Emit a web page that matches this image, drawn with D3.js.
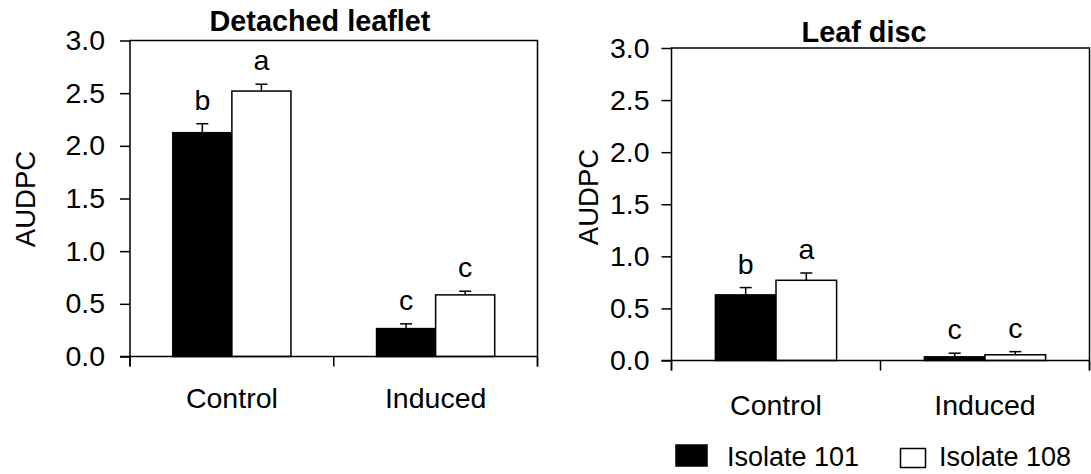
<!DOCTYPE html>
<html>
<head>
<meta charset="utf-8">
<script src="https://cdn.jsdelivr.net/npm/d3@7"></script>
<style>
  html, body { margin: 0; padding: 0; background: #fff; }
  svg { display: block; }
  text { font-family: "Liberation Sans", Arial, sans-serif; fill: #000; }
</style>
</head>
<body>
<svg id="chart" width="1091" height="474"></svg>
<script>
// Treatment groups and fungal isolates
const categories = ["Control", "Induced"];
const isolates = ["Isolate 101", "Isolate 108"];
const yTickValues = [0, 0.5, 1.0, 1.5, 2.0, 2.5, 3.0];

// Detached leaflet assay: mean AUDPC and standard error
const leaflet101 = [2.125, 0.265];
const leaflet108 = [2.52, 0.585];
const leaflet101Err = [0.085, 0.045];
const leaflet108Err = [0.065, 0.035];
const leaflet101Letters = ["b", "c"];
const leaflet108Letters = ["a", "c"];

// Leaf disc assay: mean AUDPC and standard error
const disc101 = [0.63, 0.035];
const disc108 = [0.77, 0.055];
const disc101Err = [0.07, 0.035];
const disc108Err = [0.07, 0.03];
const disc101Letters = ["b", "c"];
const disc108Letters = ["a", "c"];

const FONT = 28.5;
const TITLE_FONT = 28.8;
const YLAB_FONT = 27.5;
const LEGEND_FONT = 27;
const svg = d3.select("#chart");

const panels = [
  { title: "Detached leaflet", x0: 130, x1: 537.5, yTop: 40.5, yBottom: 356.5,
    titleX: 320, titleY: 31, ylabX: 25, ylabY: 199, tickPad: 15, catPad: 31,
    s101: leaflet101, s108: leaflet108, e101: leaflet101Err, e108: leaflet108Err,
    l101: leaflet101Letters, l108: leaflet108Letters },
  { title: "Leaf disc", x0: 671.5, x1: 1089.5, yTop: 48, yBottom: 360.5,
    titleX: 864, titleY: 42, ylabX: 588, ylabY: 197, tickPad: 12, catPad: 34,
    s101: disc101, s108: disc108, e101: disc101Err, e108: disc108Err,
    l101: disc101Letters, l108: disc108Letters }
];

panels.forEach(p => {
  const g = svg.append("g");

  const y = d3.scaleLinear().domain([0, 3]).range([p.yBottom, p.yTop]);
  const x = d3.scaleBand().domain(categories).range([p.x0, p.x1]).padding(0);
  const xs = d3.scaleBand().domain(isolates)
    .range([x.bandwidth() * 0.21, x.bandwidth() * 0.79]).padding(0);

  // y axis with ticks and labels
  const yAxis = d3.axisLeft(y).tickValues(yTickValues)
    .tickFormat(d3.format(".1f")).tickSize(10).tickSizeOuter(0).tickPadding(p.tickPad);
  const ya = g.append("g").attr("transform", `translate(${p.x0},0)`).call(yAxis);
  ya.select(".domain").remove();
  ya.selectAll("line").attr("stroke", "#000").attr("stroke-width", 1.5);
  ya.selectAll("text").style("font-size", FONT + "px")
    .style("font-family", "'Liberation Sans', Arial, sans-serif").attr("fill", "#000");

  // category labels
  const xAxis = d3.axisBottom(x).tickSize(0).tickPadding(p.catPad);
  const xa = g.append("g").attr("transform", `translate(0,${p.yBottom})`).call(xAxis);
  xa.select(".domain").remove();
  xa.selectAll("text").style("font-size", FONT + "px")
    .style("font-family", "'Liberation Sans', Arial, sans-serif").attr("fill", "#000");

  // boundary ticks below the x axis
  const bounds = categories.map(c => x(c)).concat([x.range()[1]]);
  g.selectAll(".xtick").data(bounds).enter().append("line")
    .attr("x1", d => d).attr("x2", d => d)
    .attr("y1", p.yBottom).attr("y2", p.yBottom + 10)
    .attr("stroke", "#000").attr("stroke-width", 1.5);

  // bars
  const rows = [];
  categories.forEach((c, i) => {
    rows.push({ c, iso: isolates[0], v: p.s101[i], e: p.e101[i], lab: p.l101[i], fill: "#000" });
    rows.push({ c, iso: isolates[1], v: p.s108[i], e: p.e108[i], lab: p.l108[i], fill: "#fff" });
  });

  // error bars (upper whisker only) and significance letters
  rows.forEach(r => {
    const cx = x(r.c) + xs(r.iso) + xs.bandwidth() / 2;
    g.append("line").attr("x1", cx).attr("x2", cx)
      .attr("y1", y(r.v)).attr("y2", y(r.v + r.e))
      .attr("stroke", "#000").attr("stroke-width", 1.5);
    g.append("line").attr("x1", cx - 6).attr("x2", cx + 6)
      .attr("y1", y(r.v + r.e)).attr("y2", y(r.v + r.e))
      .attr("stroke", "#000").attr("stroke-width", 1.5);
    g.append("text").attr("x", cx).attr("y", y(r.v + r.e) - 14)
      .attr("text-anchor", "middle").style("font-size", FONT + "px").text(r.lab);
  });

  g.selectAll(".bar").data(rows).enter().append("rect")
    .attr("x", d => x(d.c) + xs(d.iso))
    .attr("y", d => y(d.v))
    .attr("width", xs.bandwidth())
    .attr("height", d => y(0) - y(d.v))
    .attr("fill", d => d.fill)
    .attr("stroke", "#000").attr("stroke-width", 1.5);

  // frame: left, top, right and baseline
  g.append("path")
    .attr("d", `M${p.x0},${p.yBottom + 10}V${p.yTop}H${p.x1}V${p.yBottom + 10}`)
    .attr("fill", "none").attr("stroke", "#000").attr("stroke-width", 1.5);
  g.append("line").attr("x1", p.x0 - 10).attr("x2", p.x1)
    .attr("y1", p.yBottom).attr("y2", p.yBottom)
    .attr("stroke", "#000").attr("stroke-width", 1.5);

  // panel title
  g.append("text").attr("x", p.titleX).attr("y", p.titleY)
    .attr("text-anchor", "middle").style("font-size", TITLE_FONT + "px")
    .style("font-weight", "bold").text(p.title);

  // y axis title
  g.append("text")
    .attr("transform", `translate(${p.ylabX},${p.ylabY}) rotate(-90)`)
    .attr("text-anchor", "middle").attr("dominant-baseline", "central")
    .style("font-size", YLAB_FONT + "px").text("AUDPC");
});

// legend
const legend = svg.append("g");
const legendItems = [
  { name: isolates[0], fill: "#000", bx: 676, by: 445, bw: 31, bh: 21, tx: 727 },
  { name: isolates[1], fill: "#fff", bx: 900.5, by: 448.5, bw: 25, bh: 19, tx: 939 }
];
legendItems.forEach(d => {
  legend.append("rect").attr("x", d.bx).attr("y", d.by)
    .attr("width", d.bw).attr("height", d.bh)
    .attr("fill", d.fill).attr("stroke", "#000").attr("stroke-width", 1.5);
  legend.append("text").attr("x", d.tx).attr("y", 466)
    .style("font-size", LEGEND_FONT + "px").text(d.name);
});
</script>
</body>
</html>
